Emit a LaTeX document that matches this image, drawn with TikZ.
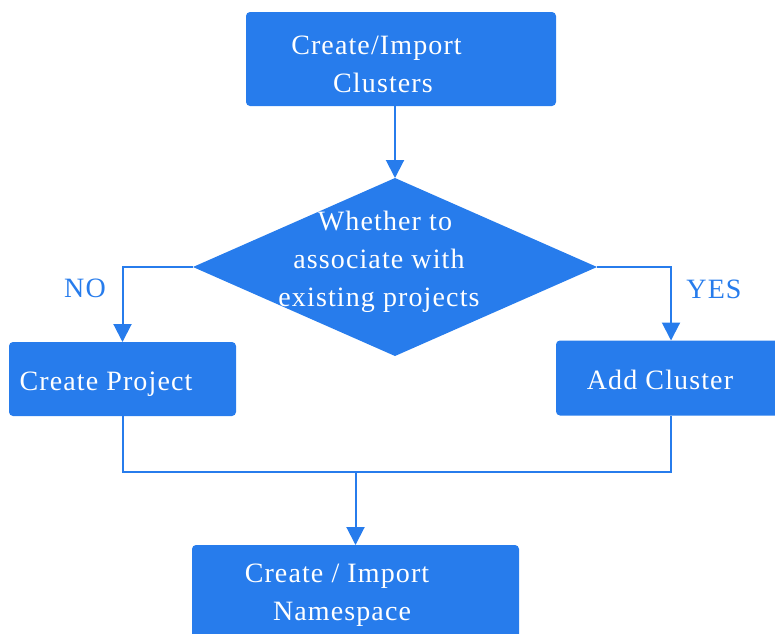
\documentclass[tikz,border=0pt]{standalone}
\usepackage{fontspec}
\setmainfont{Liberation Serif}[LetterSpace=4]
\usepackage{tikz}
\usetikzlibrary{arrows.meta,shapes.geometric}
\definecolor{flowblue}{RGB}{39,124,236}

\begin{document}
\begin{tikzpicture}[x=1pt,y=-1pt,
  box/.style={fill=flowblue,rounded corners=4pt,inner sep=0pt,outer sep=0pt},
  boxtext/.style={text=white,align=center,inner sep=0pt,font=\fontsize{28}{38}\selectfont},
  tag/.style={text=flowblue,inner sep=0pt,font=\fontsize{28}{38}\selectfont},
  flow/.style={draw=flowblue,line width=2pt},
  arr/.style={flow,-{Triangle[width=18pt,length=18pt]}}]
\useasboundingbox (0,0) rectangle (775,633);

% boxes
\node [box,minimum width=310,minimum height=94] (import) at (401,59) {};
\node [diamond,fill=flowblue,inner sep=0pt,outer sep=0pt,minimum width=404,minimum height=178] (decide) at (395,267) {};
\node [box,minimum width=227,minimum height=74] (project) at (122.5,379) {};
\node [box,minimum width=230,minimum height=75] (cluster) at (671,378) {};
\node [box,minimum width=327,minimum height=110] (namespace) at (355.5,600) {};

% texts
\node [boxtext] (importtext) at (383,64) {Create/Import\hspace*{13pt}\\Clusters};
\node [boxtext] (decidetext) at (379,262) {\hspace*{12pt}Whether to\\associate with\\existing projects};
\node [boxtext,anchor=base] (projecttext) at (106,390) {Create Project};
\node [boxtext,anchor=base] (clustertext) at (660,389) {Add Cluster};
\node [boxtext] (namespacetext) at (342,595) {Create / Import\hspace*{10pt}\\Namespace};
\node [tag,anchor=base] (no) at (85,297) {NO};
\node [tag,anchor=base] (yes) at (714,298) {YES};

% connectors
\coordinate (merge) at (355.5,472);
\draw [arr] (import.south -| decide.north) -- (decide.north);
\draw [arr] (decide.west) -| (project.north);
\draw [arr] (decide.east) -| (cluster.north);
\draw [flow] (project.south) |- (merge) -| (cluster.south);
\draw [arr] (merge) -- (namespace.north);
\end{tikzpicture}
\end{document}
